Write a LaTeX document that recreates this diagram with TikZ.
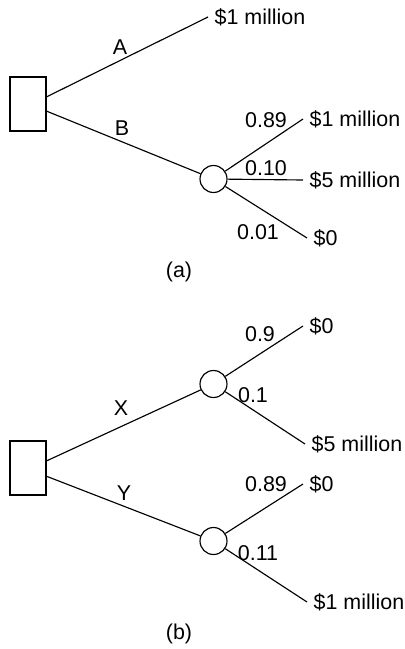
\documentclass[tikz,border=0pt]{standalone}
\usepackage{fontspec}
\setmainfont{Liberation Sans}
\usetikzlibrary{positioning}

\begin{document}
\begin{tikzpicture}[x=0.02cm,y=-0.02cm,line width=0.65pt,
  every node/.style={font=\fontsize{12.2}{14}\selectfont},
  decision/.style={draw,rectangle,minimum width=0.72cm,minimum height=1.08cm,inner sep=0pt},
  chance/.style={draw,circle,minimum size=0.54cm,inner sep=0pt},
  leaf/.style={anchor=west,inner xsep=3.5pt,inner ysep=0pt},
  lbl/.style={inner sep=0pt}]
 \useasboundingbox (0,0) rectangle (405,649);
 % (a)
 \node[decision] (dA) at (28,104) {};
 \node[chance] (cB) at (213.5,179) {};
 \node[leaf] (a1) at (208,17) {\$1 million};
 \node[leaf] (b1) at (303,119) {\$1 million};
 \node[leaf] (b2) at (303,180) {\$5 million};
 \node[leaf] (b3) at (307,238) {\$0};
 \draw (dA.21) -- (a1.west);
 \draw (dA.-21) -- (cB);
 \draw (cB) -- (b1.west);
 \draw (cB) -- (b2.west);
 \draw (cB) -- (b3.west);
 \node[lbl] (lA) at (120,47) {A};
 \node[lbl] (lB) at (122,128) {B};
 \node[lbl] (p1) at (266,120) {0.89};
 \node[lbl] (p2) at (266,168) {0.10};
 \node[lbl] (p3) at (258,232) {0.01};
 \node[lbl] (capA) at (179,272) {(a)};
 % (b)
 \node[decision] (dB) at (28,468) {};
 \node[chance] (cX) at (213.5,384) {};
 \node[chance] (cY) at (213.5,541) {};
 \node[leaf] (x1) at (303,326) {\$0};
 \node[leaf] (x2) at (305,444) {\$5 million};
 \node[leaf] (y1) at (303,484) {\$0};
 \node[leaf] (y2) at (307,602) {\$1 million};
 \draw (dB.21) -- (cX);
 \draw (dB.-24) -- (cY);
 \draw (cX) -- (x1.west);
 \draw (cX) -- (x2.west);
 \draw (cY) -- (y1.west);
 \draw (cY) -- (y2.west);
 \node[lbl] (lX) at (121,408) {X};
 \node[lbl] (lY) at (124,493) {Y};
 \node[lbl] (q1) at (260,334) {0.9};
 \node[lbl] (q2) at (253,395) {0.1};
 \node[lbl] (r1) at (266,484) {0.89};
 \node[lbl] (r2) at (258,553) {0.11};
 \node[lbl] (capB) at (179,634) {(b)};
\end{tikzpicture}
\end{document}
